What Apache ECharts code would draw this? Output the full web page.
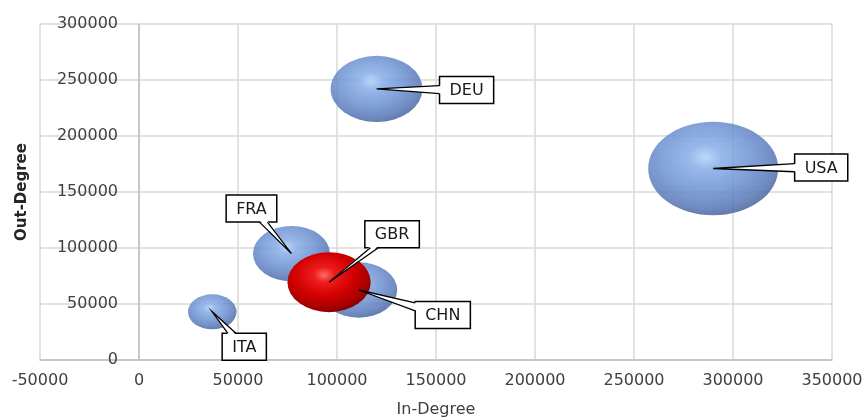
<!DOCTYPE html>
<html>
<head>
<meta charset="utf-8">
<script src="https://cdn.jsdelivr.net/npm/echarts@6/dist/echarts.min.js"></script>
<style>
   html, body { margin: 0; padding: 0; background: #fff; }
   #chart { width: 868px; height: 417px; }
</style>
</head>
<body>
<div id="chart"></div>
<script>
// data
const countries = ["ITA", "FRA", "CHN", "DEU", "USA", "GBR"];
const inDegree = [37000, 77000, 111000, 120000, 290000, 96000];
const outDegree = [43000, 95000, 62500, 242000, 171000, 69500];
const bubbleSize = [14, 35, 35, 50, 100, 41];
const highlighted = "GBR";

// callout box offset from bubble centre (px)
const calloutOffset = {
   ITA: [32, 35],
   FRA: [-40, -45],
   CHN: [84, 25],
   DEU: [90, 1],
   USA: [108, -1],
   GBR: [63, -48],
};

const FONT = "DejaVu Sans";
const textColor = "#404040";

const blueFill = new echarts.graphic.RadialGradient(0.44, 0.38, 0.64, [
   { offset: 0, color: "#b2d0fa" },
   { offset: 0.2, color: "#88ace6" },
   { offset: 0.55, color: "#6d92d2" },
   { offset: 0.85, color: "#5877b6" },
   { offset: 1, color: "#48649a" },
]);
const redFill = new echarts.graphic.RadialGradient(0.44, 0.38, 0.64, [
   { offset: 0, color: "#ff6a6a" },
   { offset: 0.2, color: "#ee1c1c" },
   { offset: 0.55, color: "#d20000" },
   { offset: 0.85, color: "#a80000" },
   { offset: 1, color: "#800000" },
]);

function bubbleDims(v) {
   const w = 130 * Math.sqrt(v / 100);
   return [w, w * 0.72];
}

const measureCtx = document.createElement("canvas").getContext("2d");
function textWidth(str) {
   measureCtx.font = "16px " + FONT;
   return measureCtx.measureText(str).width;
}

function renderCallout(params, api) {
   const name = countries[params.dataIndex];
   const p = api.coord([api.value(0), api.value(1)]);
   const off = calloutOffset[name];
   const cx = p[0] + off[0];
   const cy = p[1] + off[1];
   const hw = (textWidth(name) + 20) / 2;
   const hh = 13.5;

   // where the line centre->apex leaves the box
   const dx = p[0] - cx;
   const dy = p[1] - cy;
   const tx = dx !== 0 ? hw / Math.abs(dx) : Infinity;
   const ty = dy !== 0 ? hh / Math.abs(dy) : Infinity;
   let b1, b2, f1, f2;
   const half = 4;
   if (tx < ty) {
      const ex = cx + dx * tx;
      let ey = cy + dy * tx;
      ey = Math.min(Math.max(ey, cy - hh + half + 1), cy + hh - half - 1);
      const inward = dx > 0 ? -1.5 : 1.5;
      b1 = [ex, ey - half]; b2 = [ex, ey + half];
      f1 = [ex + inward, ey - half]; f2 = [ex + inward, ey + half];
   } else {
      let ex = cx + dx * ty;
      const ey = cy + dy * ty;
      ex = Math.min(Math.max(ex, cx - hw + half + 1), cx + hw - half - 1);
      const inward = dy > 0 ? -1.5 : 1.5;
      b1 = [ex - half, ey]; b2 = [ex + half, ey];
      f1 = [ex - half, ey + inward]; f2 = [ex + half, ey + inward];
   }

   return {
      type: "group",
      children: [
         {
            type: "rect",
            shape: { x: cx - hw, y: cy - hh, width: hw * 2, height: hh * 2 },
            style: { fill: "#fff", stroke: "#000", lineWidth: 1.5 },
            z2: 10,
         },
         {
            type: "polygon",
            shape: { points: [f1, p, f2] },
            style: { fill: "#fff" },
            z2: 11,
         },
         {
            type: "polyline",
            shape: { points: [b1, p, b2] },
            style: { stroke: "#000", lineWidth: 1.3, fill: null },
            z2: 12,
         },
         {
            type: "text",
            style: {
               text: name,
               x: cx,
               y: cy + 1,
               align: "center",
               verticalAlign: "middle",
               font: "16px " + FONT,
               fill: "#1a1a1a",
            },
            z2: 13,
         },
      ],
   };
}

const chart = echarts.init(document.getElementById("chart"));

const bubbleData = countries.map((c, i) => ({
   name: c,
   value: [inDegree[i], outDegree[i], bubbleSize[i]],
   itemStyle: c === highlighted
      ? { color: redFill, opacity: 1 }
      : { color: blueFill, opacity: 0.86 },
}));

chart.setOption({
   animation: false,
   grid: { left: 40, right: 36, top: 24, bottom: 57, outerBoundsMode: "none", containLabel: false },
   xAxis: {
      type: "value",
      min: -50000,
      max: 350000,
      interval: 50000,
      name: "In-Degree",
      nameLocation: "middle",
      nameGap: 42,
      nameMoveOverlap: false,
      nameTextStyle: { fontFamily: FONT, fontSize: 16, color: textColor },
      axisLine: { show: true, onZero: true, lineStyle: { color: "#bfbfbf", width: 1.5 } },
      axisTick: { show: false },
      axisLabel: { fontFamily: FONT, fontSize: 16, color: textColor, margin: 13, formatter: (v) => String(v) },
      splitLine: { show: true, lineStyle: { color: "#d9d9d9", width: 1.5 } },
   },
   yAxis: {
      type: "value",
      min: 0,
      max: 300000,
      interval: 50000,
      name: "Out-Degree",
      nameLocation: "middle",
      nameGap: 10,
      nameMoveOverlap: false,
      nameTextStyle: { fontFamily: FONT, fontSize: 15, fontWeight: "bold", color: "#262626" },
      axisLine: { show: true, onZero: true, lineStyle: { color: "#bfbfbf", width: 1.5 } },
      axisTick: { show: false },
      axisLabel: { fontFamily: FONT, fontSize: 16, color: textColor, margin: -78, formatter: (v) => String(v) },
      splitLine: { show: true, lineStyle: { color: "#d9d9d9", width: 1.5 } },
   },
   series: [
      {
         type: "scatter",
         data: bubbleData,
         symbol: "circle",
         symbolSize: (v) => bubbleDims(v[2]),
         silent: true,
         z: 3,
      },
      {
         type: "custom",
         data: countries.map((c, i) => [inDegree[i], outDegree[i]]),
         renderItem: renderCallout,
         clip: false,
         silent: true,
         z: 5,
      },
   ],
});
</script>
</body>
</html>
